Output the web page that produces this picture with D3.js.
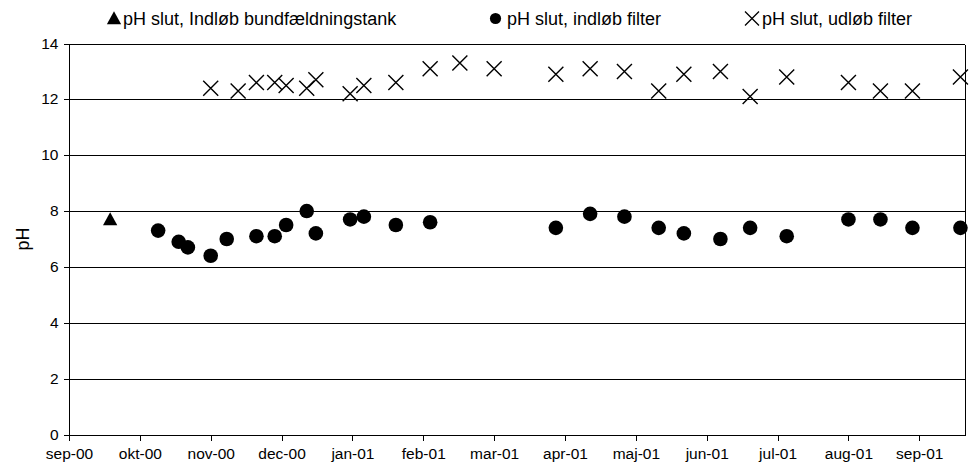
<!DOCTYPE html>
<html>
<head>
<meta charset="utf-8">
<script src="https://cdn.jsdelivr.net/npm/d3@7"></script>
<style>
  html, body { margin: 0; padding: 0; background: #fff; }
  svg { display: block; font-family: "Liberation Sans", Arial, sans-serif; }
</style>
</head>
<body>
<svg id="chart" width="971" height="470"></svg>
<script>
// pH measurements, autumn 2000 – autumn 2001
const seriesNames = [
  "pH slut, Indløb bundfældningstank",
  "pH slut, indløb filter",
  "pH slut, udløb filter"
];

const tankDates = ["2000-09-19"];
const tankValues = [7.7];

const filterInDates = [
  "2000-10-10", "2000-10-19", "2000-10-23", "2000-11-02", "2000-11-09",
  "2000-11-22", "2000-11-30", "2000-12-05", "2000-12-14", "2000-12-18",
  "2001-01-02", "2001-01-08", "2001-01-22", "2001-02-06", "2001-04-02",
  "2001-04-17", "2001-05-02", "2001-05-17", "2001-05-28", "2001-06-13",
  "2001-06-26", "2001-07-12", "2001-08-08", "2001-08-22", "2001-09-05",
  "2001-09-26"
];
const filterInValues = [
  7.3, 6.9, 6.7, 6.4, 7.0,
  7.1, 7.1, 7.5, 8.0, 7.2,
  7.7, 7.8, 7.5, 7.6, 7.4,
  7.9, 7.8, 7.4, 7.2, 7.0,
  7.4, 7.1, 7.7, 7.7, 7.4,
  7.4
];

const filterOutDates = [
  "2000-11-02", "2000-11-14", "2000-11-22", "2000-11-30", "2000-12-05",
  "2000-12-14", "2000-12-18", "2001-01-02", "2001-01-08", "2001-01-22",
  "2001-02-06", "2001-02-19", "2001-03-06", "2001-04-02", "2001-04-17",
  "2001-05-02", "2001-05-17", "2001-05-28", "2001-06-13", "2001-06-26",
  "2001-07-12", "2001-08-08", "2001-08-22", "2001-09-05", "2001-09-26"
];
const filterOutValues = [
  12.4, 12.3, 12.6, 12.6, 12.5,
  12.4, 12.7, 12.2, 12.5, 12.6,
  13.1, 13.3, 13.1, 12.9, 13.1,
  13.0, 12.3, 12.9, 13.0, 12.1,
  12.8, 12.6, 12.3, 12.3, 12.8
];

// x axis: labels every 31 days starting 1 Sep 2000
const xTickLabels = [
  "sep-00", "okt-00", "nov-00", "dec-00", "jan-01", "feb-01", "mar-01",
  "apr-01", "maj-01", "jun-01", "jul-01", "aug-01", "sep-01"
];
const xStart = "2000-09-01";
const xEnd = "2001-09-28";
const xTickStepDays = 31;

const yTicks = [0, 2, 4, 6, 8, 10, 12, 14];
const yLabel = "pH";

// ---------------------------------------------------------------
const parse = d3.utcParse("%Y-%m-%d");
const svg = d3.select("#chart");

const plot = { left: 69, right: 965, top: 43.5, bottom: 434.5 };

const x = d3.scaleUtc()
  .domain([parse(xStart), parse(xEnd)])
  .range([plot.left, plot.right]);

const y = d3.scaleLinear()
  .domain([0, 14])
  .range([plot.bottom, plot.top]);

const tickDates = xTickLabels.map((_, i) => d3.utcDay.offset(parse(xStart), i * xTickStepDays));

// horizontal gridlines
svg.append("g")
  .selectAll("line")
  .data(yTicks.filter(v => v > 0))
  .join("line")
  .attr("x1", plot.left)
  .attr("x2", plot.right)
  .attr("y1", d => Math.round(y(d)) + 0.5)
  .attr("y2", d => Math.round(y(d)) + 0.5)
  .attr("stroke", "#000")
  .attr("stroke-width", 1)
  .attr("shape-rendering", "crispEdges");

// right border
svg.append("line")
  .attr("x1", plot.right + 0.5).attr("x2", plot.right + 0.5)
  .attr("y1", Math.round(y(14)) + 0.5).attr("y2", Math.round(y(0)) + 0.5)
  .attr("stroke", "#000")
  .attr("shape-rendering", "crispEdges");

// y axis
const yAxis = d3.axisLeft(y)
  .tickValues(yTicks)
  .tickSize(6)
  .tickPadding(5)
  .tickFormat(d3.format("d"));

const gy = svg.append("g")
  .attr("transform", `translate(${plot.left + 0.5},0)`)
  .call(yAxis);
gy.select(".domain").attr("stroke", "#000").attr("shape-rendering", "crispEdges")
  .attr("d", `M0,${Math.round(y(14)) + 0.5}V${Math.round(y(0)) + 0.5}`);
gy.selectAll(".tick line").attr("stroke", "#000").attr("shape-rendering", "crispEdges");
gy.selectAll(".tick").attr("transform", d => `translate(0,${Math.round(y(d)) + 0.5})`);
gy.selectAll("text")
  .attr("font-size", "15.5px")
  .attr("font-family", "Liberation Sans, Arial, sans-serif")
  .attr("fill", "#000");

// x axis
const xAxis = d3.axisBottom(x)
  .tickValues(tickDates)
  .tickSize(5)
  .tickPadding(7)
  .tickFormat((d, i) => xTickLabels[i]);

const gx = svg.append("g")
  .attr("transform", `translate(0,${Math.round(y(0)) + 0.5})`)
  .call(xAxis);
gx.select(".domain").attr("stroke", "#000").attr("shape-rendering", "crispEdges")
  .attr("d", `M${plot.left + 0.5},0H${plot.right + 0.5}`);
gx.selectAll(".tick line").attr("stroke", "#000").attr("shape-rendering", "crispEdges");
gx.selectAll("text")
  .attr("font-size", "15.5px")
  .attr("font-family", "Liberation Sans, Arial, sans-serif")
  .attr("fill", "#000");

// y axis title
svg.append("text")
  .attr("transform", `translate(29,${(plot.top + plot.bottom) / 2}) rotate(-90)`)
  .attr("text-anchor", "middle")
  .attr("font-size", "18px")
  .attr("fill", "#000")
  .text(yLabel);

// marker shapes
const triPath = s => `M0,${-s * 0.55}L${s * 0.55},${s * 0.45}L${-s * 0.55},${s * 0.45}Z`;
const crossPath = s => `M${-s},${-s}L${s},${s}M${-s},${s}L${s},${-s}`;

const zip = (dates, vals) => dates.map((d, i) => ({ date: parse(d), value: vals[i] }));

// tank inlet (triangles)
svg.append("g")
  .selectAll("path")
  .data(zip(tankDates, tankValues))
  .join("path")
  .attr("transform", d => `translate(${x(d.date)},${y(d.value)})`)
  .attr("d", triPath(13))
  .attr("fill", "#000");

// filter inlet (filled circles)
svg.append("g")
  .selectAll("circle")
  .data(zip(filterInDates, filterInValues))
  .join("circle")
  .attr("cx", d => x(d.date))
  .attr("cy", d => y(d.value))
  .attr("r", 7.3)
  .attr("fill", "#000");

// filter outlet (crosses)
svg.append("g")
  .selectAll("path")
  .data(zip(filterOutDates, filterOutValues))
  .join("path")
  .attr("transform", d => `translate(${x(d.date)},${y(d.value)})`)
  .attr("d", crossPath(7.5))
  .attr("fill", "none")
  .attr("stroke", "#000")
  .attr("stroke-width", 1.4);

// legend
const legend = svg.append("g").attr("font-size", "18px").attr("fill", "#000");
const legendItems = [
  { name: seriesNames[0], mx: 114, tx: 123, kind: "tri" },
  { name: seriesNames[1], mx: 495.5, tx: 507, kind: "dot" },
  { name: seriesNames[2], mx: 752, tx: 762, kind: "cross" }
];
const legendY = 18.5;
legendItems.forEach(it => {
  if (it.kind === "tri") {
    legend.append("path")
      .attr("transform", `translate(${it.mx},${legendY})`)
      .attr("d", triPath(13)).attr("fill", "#000");
  } else if (it.kind === "dot") {
    legend.append("circle")
      .attr("cx", it.mx).attr("cy", legendY).attr("r", 5.6).attr("fill", "#000");
  } else {
    legend.append("path")
      .attr("transform", `translate(${it.mx},${legendY})`)
      .attr("d", crossPath(7)).attr("fill", "none")
      .attr("stroke", "#000").attr("stroke-width", 1.3);
  }
  legend.append("text")
    .attr("x", it.tx).attr("y", legendY + 6)
    .text(it.name);
});
</script>
</body>
</html>
